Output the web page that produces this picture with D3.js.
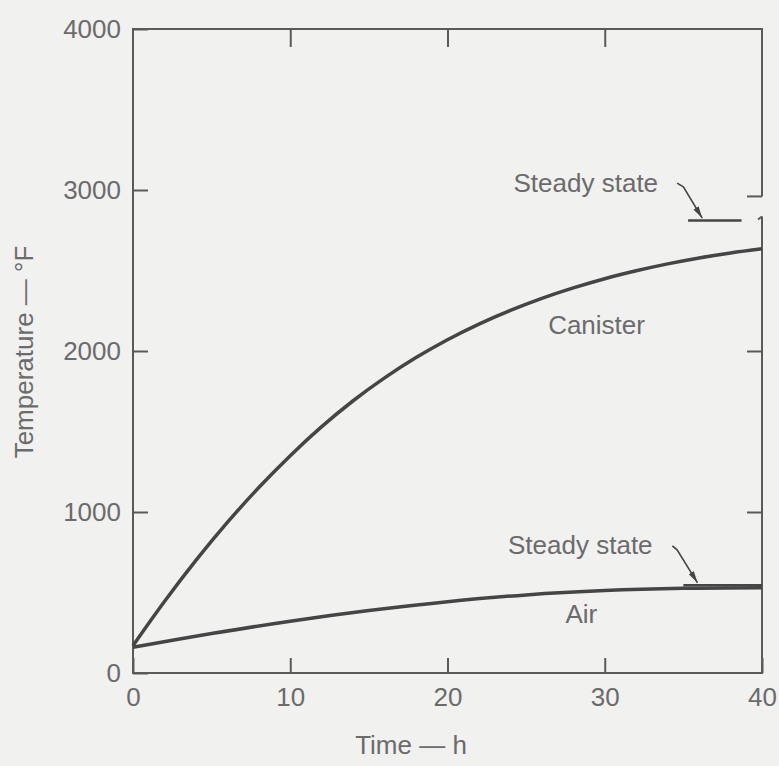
<!DOCTYPE html>
<html>
<head>
<meta charset="utf-8">
<script src="https://cdn.jsdelivr.net/npm/d3@7/dist/d3.min.js"></script>
<style>
  body { margin: 0; background: #f1f1f0; }
  svg { display: block; }
  text { font-family: "Liberation Sans", Arial, sans-serif; fill: #6b6b6b; }
</style>
</head>
<body>
<svg id="chart"></svg>
<script>
// values
var timeH = [0, 2, 4, 6, 8, 10, 12, 14, 16, 18, 20, 22, 24, 26, 28, 30, 32, 34, 36, 38, 40];
var canisterF = [170, 444, 699, 935, 1152, 1350, 1530, 1691, 1833, 1959, 2070, 2167, 2252, 2327, 2392, 2449, 2498, 2541, 2578, 2609, 2635];
var airTimeH = [0, 5, 10, 15, 20, 25, 30, 35, 40];
var airF = [160, 245, 322, 388, 443, 485, 512, 526, 530];

var canisterSteady = 2810;  // short line, t 35.3 to 38.7
var airSteady = 545;        // t 35 to 40
var xTicks = [0, 10, 20, 30, 40];
var yTicks = [0, 1000, 2000, 3000, 4000];

var width = 779, height = 766;
var margin = {top: 29, right: 17, bottom: 93, left: 133};

var svg = d3.select('#chart')
  .attr('width', width)
  .attr('height', height);

var x = d3.scaleLinear().domain([0, 40]).range([margin.left, width - margin.right]);
var y = d3.scaleLinear().domain([0, 4000]).range([height - margin.bottom, margin.top]);

var axisColor = '#5a5a5a';
var lineColor = '#454545';

function styleAxis(g) {
  g.selectAll('.domain').remove();
  g.selectAll('.tick line').attr('stroke', axisColor).attr('stroke-width', 2);
  g.selectAll('.tick text').style('font-size', '26px').attr('fill', '#6b6b6b');
}

// bottom axis, ticks pointing in
svg.append('g')
  .attr('transform', 'translate(0,' + y(0) + ')')
  .call(d3.axisBottom(x).tickValues(xTicks).tickSize(-15).tickPadding(15).tickFormat(d3.format('d')))
  .call(styleAxis);

// left axis
svg.append('g')
  .attr('transform', 'translate(' + x(0) + ',0)')
  .call(d3.axisLeft(y).tickValues(yTicks).tickSize(-15).tickPadding(12).tickFormat(d3.format('d')))
  .call(styleAxis);

// top axis, no labels
svg.append('g')
  .attr('transform', 'translate(0,' + y(4000) + ')')
  .call(d3.axisTop(x).tickValues([10, 20, 30]).tickSize(-18).tickFormat(''))
  .call(styleAxis);

// right axis, no labels
svg.append('g')
  .attr('transform', 'translate(' + x(40) + ',0)')
  .call(d3.axisRight(y).tickValues([1000, 2000]).tickSize(-15).tickFormat(''))
  .call(styleAxis);

// frame, right side broken near the canister steady state
var frame = svg.append('g')
  .attr('fill', 'none')
  .attr('stroke', axisColor)
  .attr('stroke-width', 2);

frame.append('path')
  .attr('d', 'M' + x(40) + ',' + y(2960) + 'V' + y(4000) + 'H' + x(0) + 'V' + y(0) + 'H' + x(40) + 'V' + y(2835));
frame.append('path')
  .attr('d', 'M' + x(40) + ',' + y(2960) + 'h-15');
frame.append('path')
  .attr('d', 'M' + x(40) + ',' + y(2835) + 'l-4,3');

// curves
var line = d3.line()
  .x(function(d) { return x(d[0]); })
  .y(function(d) { return y(d[1]); })
  .curve(d3.curveCatmullRom);

svg.append('path')
  .datum(d3.zip(timeH, canisterF))
  .attr('d', line)
  .attr('fill', 'none')
  .attr('stroke', lineColor)
  .attr('stroke-width', 3.5);

svg.append('path')
  .datum(d3.zip(airTimeH, airF))
  .attr('d', line)
  .attr('fill', 'none')
  .attr('stroke', lineColor)
  .attr('stroke-width', 3.5);

// steady state lines
svg.append('line')
  .attr('x1', x(35.3)).attr('x2', x(38.7))
  .attr('y1', y(canisterSteady)).attr('y2', y(canisterSteady))
  .attr('stroke', lineColor).attr('stroke-width', 2.5);

svg.append('line')
  .attr('x1', x(35)).attr('x2', x(40))
  .attr('y1', y(airSteady)).attr('y2', y(airSteady))
  .attr('stroke', lineColor).attr('stroke-width', 2.5);

// arrowhead marker
svg.append('defs').append('marker')
  .attr('id', 'arrow')
  .attr('viewBox', '0 0 12 6')
  .attr('refX', 12).attr('refY', 3)
  .attr('markerWidth', 12).attr('markerHeight', 6)
  .attr('markerUnits', 'userSpaceOnUse')
  .attr('orient', 'auto')
  .append('path')
  .attr('d', 'M0,0L12,3L0,6Z')
  .attr('fill', lineColor);

// leaders: hook start, bend, end (data units)
var leaders = [
  [[34.6, 3043], [35.0, 3019], [36.2, 2825]],
  [[34.3, 790], [34.6, 765], [35.9, 560]]
];

leaders.forEach(function(pts) {
  svg.append('path')
    .attr('d', d3.line().x(function(d) { return x(d[0]); }).y(function(d) { return y(d[1]); })(pts))
    .attr('fill', 'none')
    .attr('stroke', lineColor)
    .attr('stroke-width', 1.6)
    .attr('marker-end', 'url(#arrow)');
});

// labels
var labels = [
  {text: 'Steady state', t: 24.2, v: 2990},
  {text: 'Canister', t: 26.4, v: 2105},
  {text: 'Steady state', t: 23.85, v: 741},
  {text: 'Air', t: 27.5, v: 309}
];

svg.selectAll('.lbl')
  .data(labels)
  .enter().append('text')
  .attr('class', 'lbl')
  .attr('x', function(d) { return x(d.t); })
  .attr('y', function(d) { return y(d.v); })
  .style('font-size', '26px')
  .text(function(d) { return d.text; });

// axis titles
svg.append('text')
  .attr('x', 411)
  .attr('y', 754)
  .attr('text-anchor', 'middle')
  .style('font-size', '26px')
  .text('Time — h');

svg.append('text')
  .attr('transform', 'translate(33,352) rotate(-90)')
  .attr('text-anchor', 'middle')
  .style('font-size', '26px')
  .text('Temperature — °F');
</script>
</body>
</html>
